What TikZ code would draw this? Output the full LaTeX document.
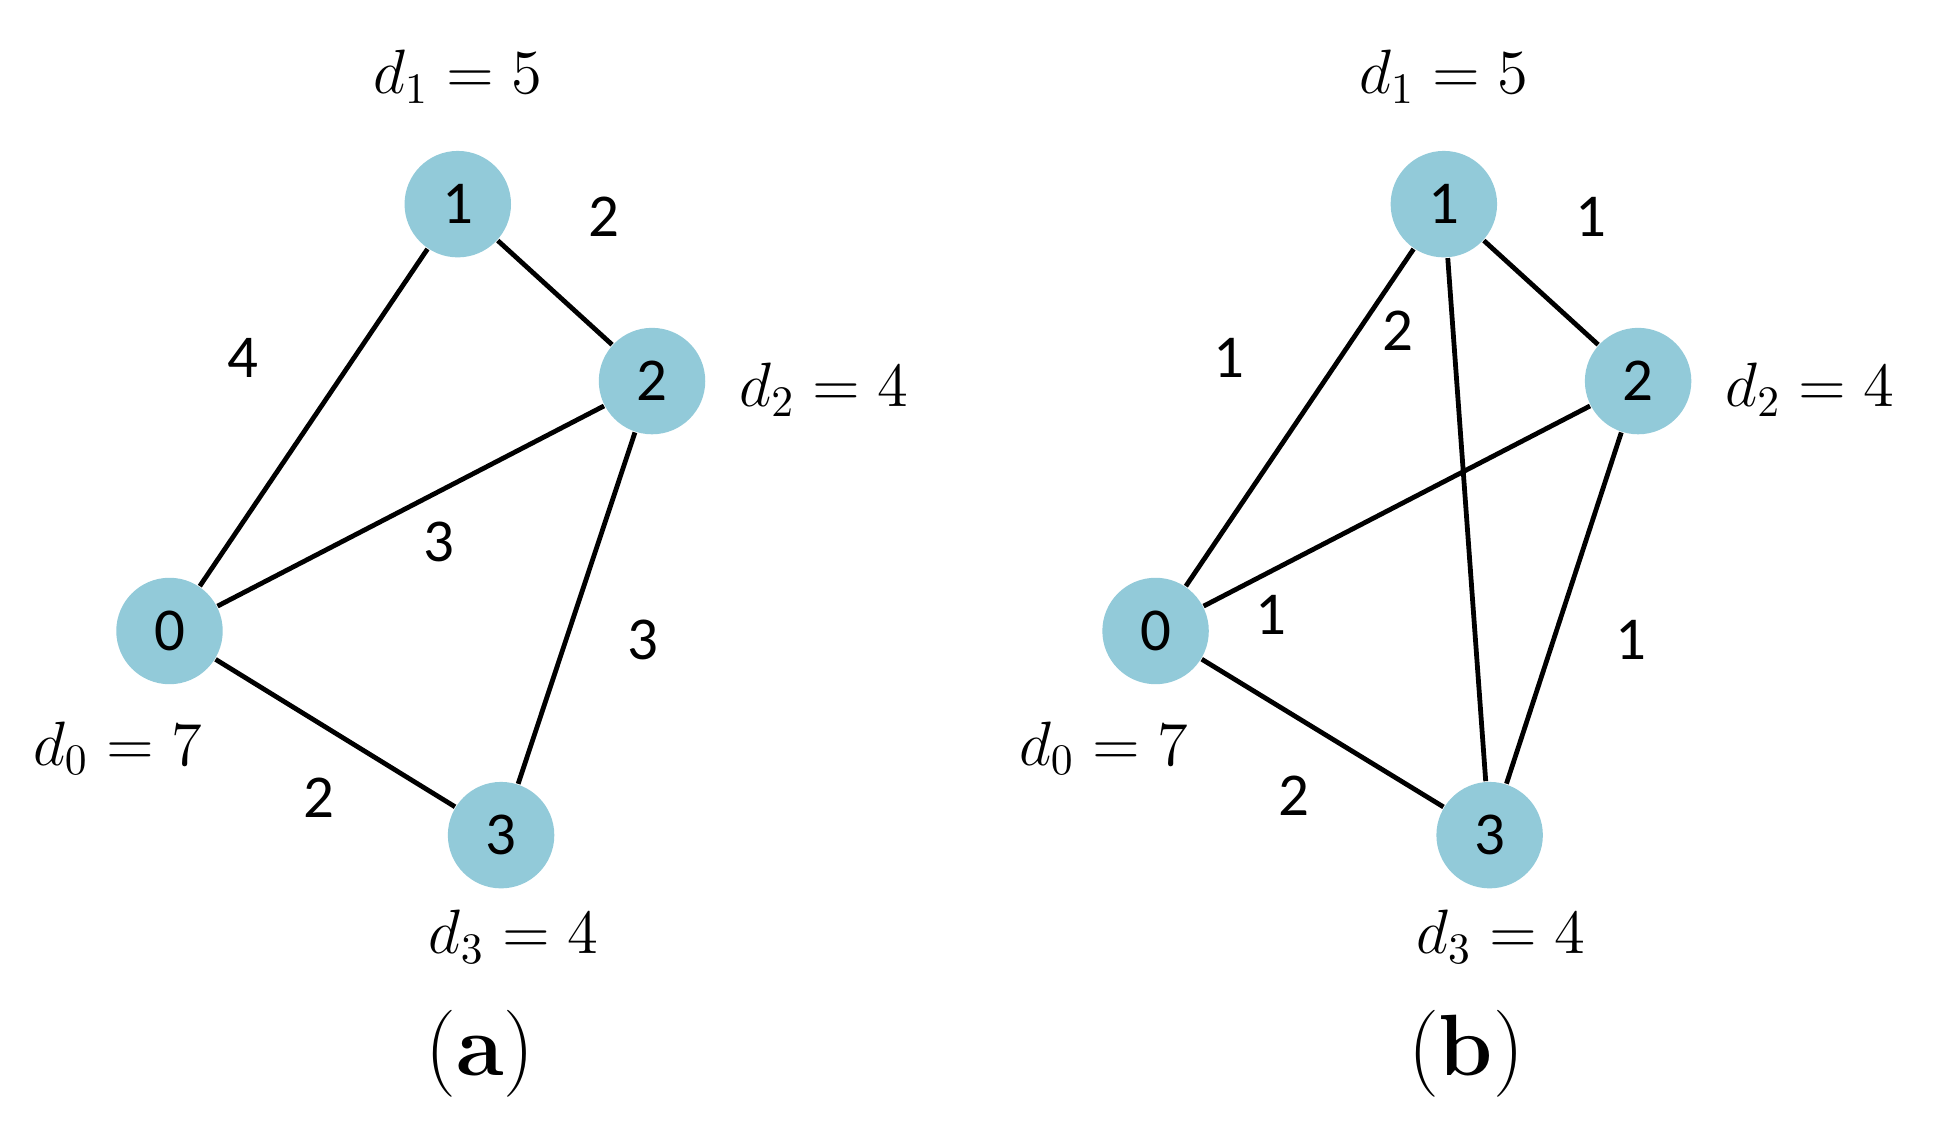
\documentclass[tikz,border=0pt]{standalone}
\usepackage{fontspec}
\newfontfamily\carlitofont{Carlito}
\definecolor{nodeblue}{HTML}{92CAD9}
\begin{document}
\begin{tikzpicture}[x=0.01cm,y=-0.01cm,
  vtx/.style={circle,fill=nodeblue,minimum size=0.86cm,inner sep=0pt,font=\carlitofont\fontsize{14}{16}\selectfont},
  wt/.style={font=\carlitofont\fontsize{14}{16}\selectfont},
  dl/.style={font=\fontsize{14}{16}\selectfont},
  edge/.style={line width=1.1pt}]
\useasboundingbox (0,0) rectangle (1568,912);
% (a)
\node[vtx] (a1) at (370,165) {1};
\node[vtx] (a2) at (527,308) {2};
\node[vtx] (a0) at (137,510) {0};
\node[vtx] (a3) at (405,675) {3};
\draw[edge] (a1)--(a2) (a1)--(a0) (a0)--(a2) (a2)--(a3) (a0)--(a3);
\node[dl] (ad1) at (370,62) {$d_1=5$};
\node[dl] (ad2) at (666,315) {$d_2=4$};
\node[dl] (ad0) at (95,605) {$d_0=7$};
\node[dl] (ad3) at (415,757) {$d_3=4$};
\node[wt] (aw1) at (488,175) {2};
\node[wt] (aw2) at (196,289) {4};
\node[wt] (aw3) at (355,438) {3};
\node[wt] (aw4) at (520,517) {3};
\node[wt] (aw5) at (258,645) {2};
\node[font=\fontsize{20}{24}\selectfont] (capa) at (388,852) {(\textbf{a})};
% (b)
\node[vtx] (b1) at (1167,165) {1};
\node[vtx] (b2) at (1324,308) {2};
\node[vtx] (b0) at (934,510) {0};
\node[vtx] (b3) at (1204,675) {3};
\draw[edge] (b1)--(b2) (b1)--(b0) (b0)--(b2) (b2)--(b3) (b0)--(b3) (b1)--(b3);
\node[dl] (bd1) at (1167,62) {$d_1=5$};
\node[dl] (bd2) at (1463,315) {$d_2=4$};
\node[dl] (bd0) at (892,605) {$d_0=7$};
\node[dl] (bd3) at (1213,757) {$d_3=4$};
\node[wt] (bw1) at (1286,175) {1};
\node[wt] (bw2) at (993,289) {1};
\node[wt] (bw3) at (1130,267) {2};
\node[wt] (bw4) at (1027,497) {1};
\node[wt] (bw5) at (1318,517) {1};
\node[wt] (bw6) at (1046,643) {2};
\node[font=\fontsize{20}{24}\selectfont] (capb) at (1185,852) {(\textbf{b})};
\end{tikzpicture}
\end{document}
